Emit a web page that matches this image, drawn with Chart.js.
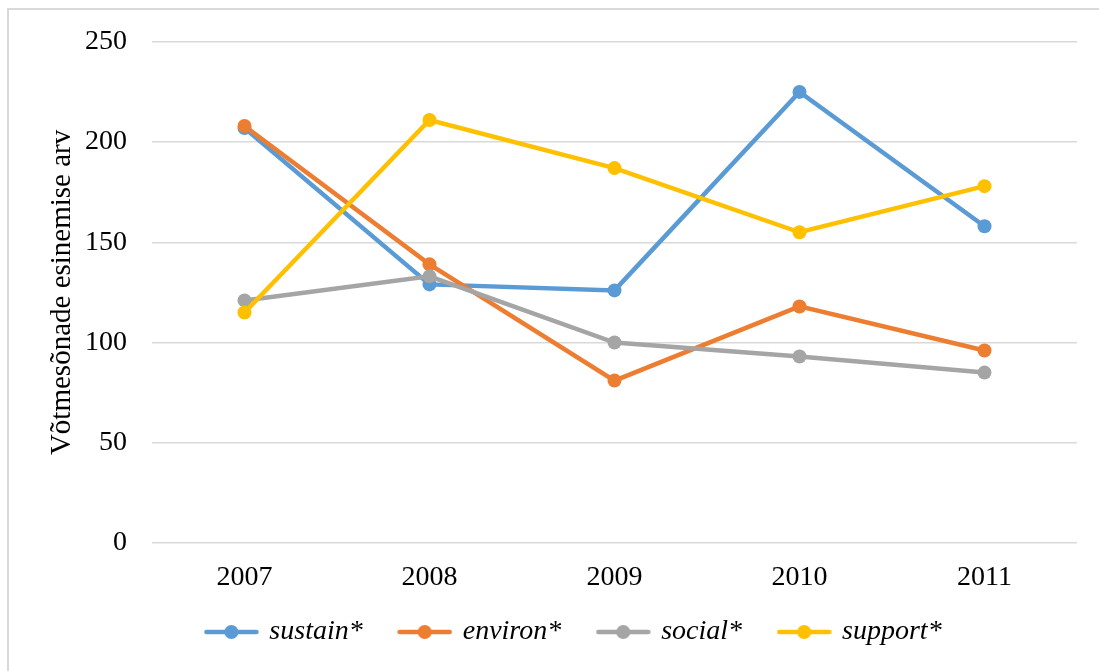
<!DOCTYPE html>
<html>
<head>
<meta charset="utf-8">
<script src="https://cdn.jsdelivr.net/npm/chart.js@4/dist/chart.umd.min.js"></script>
<style>
  html, body { margin: 0; padding: 0; background: #ffffff; overflow: hidden; }
  #wrap { position: relative; width: 1099px; height: 671px; }
  #frame { position: absolute; left: 7px; top: 8px; width: 1200px; height: 800px; border: 2px solid #d9d9d9; box-sizing: border-box; }
  #chart { position: absolute; left: 0; top: 0; }
</style>
</head>
<body>
<div id="wrap">
  <div id="frame"></div>
  <canvas id="chart" width="1099" height="671"></canvas>
</div>
<script>
// Keyword occurrence counts per year
const years = ['2007', '2008', '2009', '2010', '2011'];
const sustain = [207, 129, 126, 225, 158];
const environ = [208, 139, 81, 118, 96];
const social = [121, 133, 100, 93, 85];
const support = [115, 211, 187, 155, 178];
const seriesNames = ['sustain*', 'environ*', 'social*', 'support*'];
const seriesColors = ['#5B9BD5', '#ED7D31', '#A5A5A5', '#FFC000'];
const yTicks = [0, 50, 100, 150, 200, 250];

const serif = '"Liberation Serif", "Times New Roman", serif';

// Legend symbol: short line with a dot in the middle
function legendSymbol(color) {
  const c = document.createElement('canvas');
  c.width = 55; c.height = 16;
  const g = c.getContext('2d');
  g.strokeStyle = color;
  g.lineWidth = 4.5;
  g.lineCap = 'round';
  g.beginPath();
  g.moveTo(2.5, 8); g.lineTo(52.5, 8);
  g.stroke();
  g.fillStyle = color;
  g.beginPath();
  g.arc(27.5, 8, 7, 0, Math.PI * 2);
  g.fill();
  return c;
}

// Pull the legend row up a little, closer to the year labels
const legendLift = {
  id: 'legendLift',
  afterLayout(chart) {
    const lg = chart.legend;
    if (lg) { lg.top -= 9; lg.bottom -= 9; }
  }
};

const values = [sustain, environ, social, support];
const datasets = values.map((v, i) => ({
  label: seriesNames[i],
  data: v,
  borderColor: seriesColors[i],
  backgroundColor: seriesColors[i],
  pointBackgroundColor: seriesColors[i],
  pointBorderColor: seriesColors[i],
  borderWidth: 4.5,
  pointRadius: 7,
  pointBorderWidth: 0,
  pointHoverRadius: 7,
  tension: 0,
  order: values.length - i,
  pointStyle: 'circle',
  legendSymbol: legendSymbol(seriesColors[i])
}));

new Chart(document.getElementById('chart'), {
  type: 'line',
  data: { labels: years, datasets: datasets },
  plugins: [legendLift],
  options: {
    responsive: false,
    animation: false,
    devicePixelRatio: 1,
    layout: { padding: { left: 72, right: 22, top: 38, bottom: 6 } },
    plugins: {
      tooltip: { enabled: false },
      legend: {
        position: 'bottom',
        align: 'center',
        labels: {
          usePointStyle: true,
          pointStyleWidth: 48,
          padding: 38,
          color: '#000000',
          font: { family: serif, size: 28, style: 'italic' },
          sort: (a, b) => a.datasetIndex - b.datasetIndex,
          generateLabels: (chart) => {
            const items = Chart.defaults.plugins.legend.labels.generateLabels(chart);
            items.forEach(it => {
              it.pointStyle = chart.data.datasets[it.datasetIndex].legendSymbol;
            });
            return items;
          }
        }
      }
    },
    scales: {
      x: {
        offset: true,
        afterFit: (scale) => { scale.height = 46; },
        grid: { display: false, drawTicks: false },
        border: { display: false },
        ticks: { color: '#000000', padding: 18, font: { family: serif, size: 28 } }
      },
      y: {
        min: 0,
        max: 250,
        afterBuildTicks: (scale) => { scale.ticks = yTicks.map(v => ({ value: v })); },
        afterFit: (scale) => { scale.width = 80; },
        grid: { color: '#d9d9d9', lineWidth: 1.5, drawTicks: false },
        border: { display: false },
        ticks: { color: '#000000', padding: 25, font: { family: serif, size: 28 } },
        title: {
          display: true,
          text: 'Võtmesõnade esinemise arv',
          color: '#000000',
          font: { family: serif, size: 29 },
          padding: { top: -27, bottom: 0 }
        }
      }
    }
  }
});
</script>
</body>
</html>
